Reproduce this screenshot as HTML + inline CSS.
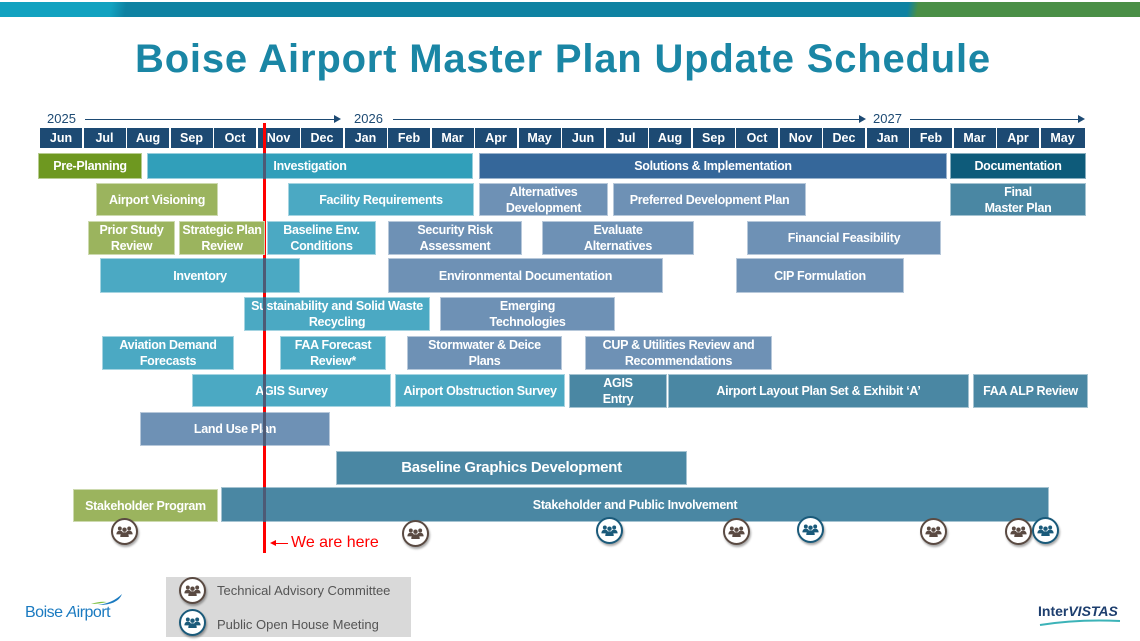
<!DOCTYPE html>
<html><head><meta charset="utf-8"><style>
*{margin:0;padding:0;box-sizing:border-box}
body{width:1140px;height:641px;background:#fff;position:relative;overflow:hidden;font-family:"Liberation Sans",sans-serif}
.b{position:absolute;z-index:2;color:#fff;font-weight:bold;font-size:12.5px;display:flex;align-items:center;justify-content:center;text-align:center;line-height:16px;border:1px solid rgba(255,255,255,.5);letter-spacing:-0.3px}
.m{position:absolute;top:128px;height:20px;background:#1d4a73;color:#fff;font-weight:bold;font-size:12.5px;text-align:center;line-height:20px}
.g{background:#9bb45e}.t{background:#4ba9c3}.s{background:#6e91b5}.d{background:#4a87a3}
.ic{position:absolute;z-index:3;width:27px;height:27px;border-radius:50%;background:#fff;border:2.5px solid #5a4a42;box-shadow:1px 2px 2px rgba(0,0,0,.35)}
.ic.p{border-color:#1a5a7a}
.ic svg{position:absolute;left:3px;top:4px}
.dk{position:absolute;z-index:4;left:263px;width:3px;background:#4d5a75}
.yr{position:absolute;top:111px;font-size:13px;color:#1d4a73}
.ar{position:absolute;top:119px;height:1px;background:#1d4a73}
.ar:after{content:"";position:absolute;right:-2px;top:-4px;border-left:7px solid #1d4a73;border-top:4.5px solid transparent;border-bottom:4.5px solid transparent}
</style></head><body>
<div style="position:absolute;left:0;top:2px;width:1140px;height:15px;background:linear-gradient(100deg,#12a2c0 0 110px,#0e82a2 125px 895px,#4a8f46 905px)"></div>
<div style="position:absolute;left:0;top:37px;width:1126px;text-align:center;font-size:40px;font-weight:bold;color:#1a86a5;letter-spacing:0.8px">Boise Airport Master Plan Update Schedule</div>

<div class="yr" style="left:47px">2025</div><div class="ar" style="left:85px;width:254px"></div>
<div class="yr" style="left:354px">2026</div><div class="ar" style="left:393px;width:471px"></div>
<div class="yr" style="left:873px">2027</div><div class="ar" style="left:910px;width:173px"></div>

<div class="m" style="left:40px;width:42px">Jun</div>
<div class="m" style="left:83.5px;width:42px">Jul</div>
<div class="m" style="left:127px;width:42px">Aug</div>
<div class="m" style="left:170.5px;width:42px">Sep</div>
<div class="m" style="left:214px;width:42px">Oct</div>
<div class="m" style="left:257.5px;width:42px">Nov</div>
<div class="m" style="left:301px;width:42px">Dec</div>
<div class="m" style="left:344.5px;width:42px">Jan</div>
<div class="m" style="left:388px;width:42px">Feb</div>
<div class="m" style="left:431.5px;width:42px">Mar</div>
<div class="m" style="left:475px;width:42px">Apr</div>
<div class="m" style="left:518.5px;width:42px">May</div>
<div class="m" style="left:562px;width:42px">Jun</div>
<div class="m" style="left:605.5px;width:42px">Jul</div>
<div class="m" style="left:649px;width:42px">Aug</div>
<div class="m" style="left:692.5px;width:42px">Sep</div>
<div class="m" style="left:736px;width:42px">Oct</div>
<div class="m" style="left:779.5px;width:42px">Nov</div>
<div class="m" style="left:823px;width:42px">Dec</div>
<div class="m" style="left:866.5px;width:42px">Jan</div>
<div class="m" style="left:910px;width:42px">Feb</div>
<div class="m" style="left:953.5px;width:42px">Mar</div>
<div class="m" style="left:997px;width:42px">Apr</div>
<div class="m" style="left:1040.5px;width:44px">May</div>

<div style="position:absolute;z-index:1;left:263px;top:123px;width:3px;height:430px;background:#f00"></div>

<div class="b" style="left:38px;top:153px;width:104px;height:26px;background:#6e9820">Pre-Planning</div>
<div class="b" style="left:147px;top:153px;width:326px;height:26px;background:#319fba">Investigation</div>
<div class="b" style="left:479px;top:153px;width:468px;height:26px;background:#35679a">Solutions &amp; Implementation</div>
<div class="b" style="left:950px;top:153px;width:136px;height:26px;background:#0e5b7a">Documentation</div>

<div class="b g" style="left:96px;top:183px;width:122px;height:33px">Airport Visioning</div>
<div class="b t" style="left:288px;top:183px;width:186px;height:33px">Facility Requirements</div>
<div class="b s" style="left:479px;top:183px;width:129px;height:33px">Alternatives<br>Development</div>
<div class="b s" style="left:613px;top:183px;width:193px;height:33px">Preferred Development Plan</div>
<div class="b d" style="left:950px;top:183px;width:136px;height:33px">Final<br>Master Plan</div>

<div class="b g" style="left:88px;top:221px;width:87px;height:34px">Prior Study<br>Review</div>
<div class="b g" style="left:179px;top:221px;width:86px;height:34px">Strategic Plan<br>Review</div>
<div class="b t" style="left:267px;top:221px;width:109px;height:34px">Baseline Env.<br>Conditions</div>
<div class="b s" style="left:388px;top:221px;width:134px;height:34px">Security Risk<br>Assessment</div>
<div class="b s" style="left:542px;top:221px;width:152px;height:34px">Evaluate<br>Alternatives</div>
<div class="b s" style="left:747px;top:221px;width:194px;height:34px">Financial Feasibility</div>

<div class="b t" style="left:100px;top:258px;width:200px;height:35px">Inventory</div>
<div class="b s" style="left:388px;top:258px;width:275px;height:35px">Environmental Documentation</div>
<div class="b s" style="left:736px;top:258px;width:168px;height:35px">CIP Formulation</div>

<div class="b t" style="left:244px;top:297px;width:186px;height:34px">Sustainability and Solid Waste<br>Recycling</div>
<div class="b s" style="left:440px;top:297px;width:175px;height:34px">Emerging<br>Technologies</div>

<div class="b t" style="left:102px;top:336px;width:132px;height:34px">Aviation Demand<br>Forecasts</div>
<div class="b t" style="left:280px;top:336px;width:106px;height:34px">FAA Forecast<br>Review*</div>
<div class="b s" style="left:407px;top:336px;width:155px;height:34px">Stormwater &amp; Deice<br>Plans</div>
<div class="b s" style="left:585px;top:336px;width:187px;height:34px">CUP &amp; Utilities Review and<br>Recommendations</div>

<div class="b t" style="left:192px;top:374px;width:199px;height:33px">AGIS Survey</div>
<div class="b t" style="left:395px;top:374px;width:170px;height:33px">Airport Obstruction Survey</div>
<div class="b d" style="left:569px;top:374px;width:98px;height:34px">AGIS<br>Entry</div>
<div class="b d" style="left:668px;top:374px;width:301px;height:34px">Airport Layout Plan Set &amp; Exhibit ‘A’</div>
<div class="b d" style="left:973px;top:374px;width:115px;height:34px">FAA ALP Review</div>

<div class="b s" style="left:140px;top:412px;width:190px;height:34px">Land Use Plan</div>
<div class="b d" style="left:336px;top:451px;width:351px;height:34px;font-size:15px">Baseline Graphics Development</div>
<div class="b g" style="left:73px;top:489px;width:145px;height:33px">Stakeholder Program</div>
<div class="b d" style="left:221px;top:487px;width:828px;height:35px">Stakeholder and Public Involvement</div>

<div class="dk" style="top:153px;height:26px"></div>
<div class="dk" style="top:258px;height:35px"></div>
<div class="dk" style="top:297px;height:34px"></div>
<div class="dk" style="top:374px;height:33px"></div>
<div class="dk" style="top:412px;height:34px"></div>
<div class="dk" style="top:487px;height:35px"></div>

<div style="position:absolute;left:272px;top:543px;width:16px;height:1px;background:#f00"></div>
<div style="position:absolute;left:270px;top:540px;border-right:6px solid #f00;border-top:3.5px solid transparent;border-bottom:3.5px solid transparent"></div>
<div style="position:absolute;left:291px;top:534px;font-size:16px;color:#f00">We are here</div>

<svg width="0" height="0" style="position:absolute"><defs>
<symbol id="pp" viewBox="0 0 20 16"><circle cx="4.5" cy="5" r="2.3"/><circle cx="15.5" cy="5" r="2.3"/><path d="M0.5 12 q0-4.5 4-4.5 q4 0 4 4.5z M11.5 12 q0-4.5 4-4.5 q4 0 4 4.5z"/><circle cx="10" cy="6.5" r="2.6"/><path d="M5 15 q0-5.5 5-5.5 q5 0 5 5.5z"/></symbol></defs></svg>

<div class="ic" style="left:111px;top:518px"><svg width="17" height="14" fill="#5a4a42"><use href="#pp"/></svg></div>
<div class="ic" style="left:402px;top:520px"><svg width="17" height="14" fill="#5a4a42"><use href="#pp"/></svg></div>
<div class="ic p" style="left:596px;top:517px"><svg width="17" height="14" fill="#1a5a7a"><use href="#pp"/></svg></div>
<div class="ic" style="left:723px;top:518px"><svg width="17" height="14" fill="#5a4a42"><use href="#pp"/></svg></div>
<div class="ic p" style="left:797px;top:516px"><svg width="17" height="14" fill="#1a5a7a"><use href="#pp"/></svg></div>
<div class="ic" style="left:920px;top:518px"><svg width="17" height="14" fill="#5a4a42"><use href="#pp"/></svg></div>
<div class="ic" style="left:1005px;top:518px"><svg width="17" height="14" fill="#5a4a42"><use href="#pp"/></svg></div>
<div class="ic p" style="left:1032px;top:517px"><svg width="17" height="14" fill="#1a5a7a"><use href="#pp"/></svg></div>

<div style="position:absolute;left:166px;top:577px;width:245px;height:60px;background:#d9d9d9"></div>
<div class="ic" style="left:179px;top:577px"><svg width="17" height="14" fill="#5a4a42"><use href="#pp"/></svg></div>
<div class="ic p" style="left:179px;top:609px"><svg width="17" height="14" fill="#1a5a7a"><use href="#pp"/></svg></div>
<div style="position:absolute;left:217px;top:583px;font-size:13px;color:#555">Technical Advisory Committee</div>
<div style="position:absolute;left:217px;top:617px;font-size:13px;color:#555">Public Open House Meeting</div>

<div style="position:absolute;left:25px;top:604px;font-size:16px;color:#1a7ac0;letter-spacing:-0.5px">Boise <i>A</i>irport</div>
<svg style="position:absolute;left:88px;top:593px" width="37" height="14"><path d="M3 11 Q12 8 19 9 Q10 11 3 11z" fill="#7cc142"/><path d="M10 12 Q25 10 34 1 Q30 12 10 12z" fill="#1a7ac0"/></svg>
<div style="position:absolute;left:1038px;top:603px;font-size:14px;font-weight:bold;color:#1d3e6e">Inter<i>VISTAS</i></div>
<svg style="position:absolute;left:1038px;top:619px" width="84" height="8"><path d="M2 6 Q40 0 82 2" stroke="#3cb3b8" stroke-width="2" fill="none"/></svg>
</body></html>
